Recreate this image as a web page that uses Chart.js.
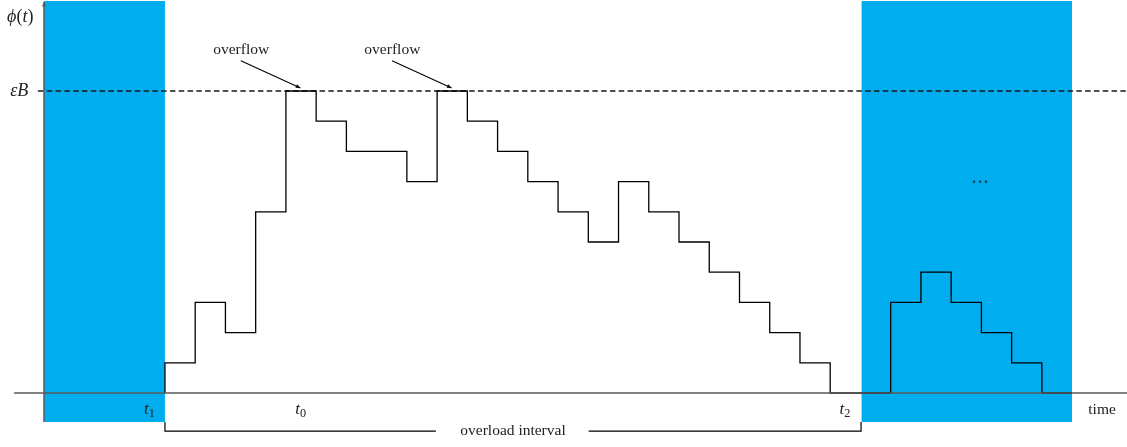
<!DOCTYPE html>
<html>
<head>
<meta charset="utf-8">
<script src="https://cdn.jsdelivr.net/npm/chart.js@4"></script>
<style>
  html, body { margin: 0; padding: 0; background: #fff; }
  canvas { display: block; }
</style>
</head>
<body>
<canvas id="overloadChart" width="1127" height="447"></canvas>
<script>
// buffer level phi(t) as a step function: level holds from each time to the next
var stepTimes  = [4, 4, 5, 6, 7, 8, 9, 10, 12, 13, 14, 15, 16, 17, 18, 19, 20, 21, 22, 23, 24, 25, 26, 28, 29, 30, 31, 32, 33, 34];
var stepLevels = [0, 1, 3, 2, 6, 10, 9, 8, 7, 10, 9, 8, 7, 6, 5, 7, 6, 5, 4, 3, 2, 1, 0, 3, 4, 3, 2, 1, 0, 0];

// idle (shaded) periods [start, end]
var idleStart = [0, 27.03];
var idleEnd   = [4, 34];

// threshold epsilon*B
var threshold = 10;

// time ticks below the axis
var tickTimes  = [4, 9, 27];
var tickLabels = ['1', '0', '2'];

// overload interval t1 .. t2
var overloadFrom = 4, overloadTo = 27.02;

// overflow events (time of the overflow step)
var overflowAt = [8.5, 13.5];

// ---- view ----
var xMin = -1.455, xMax = 35.815, yMin = -1.788, yMax = 13.013;
var blue = '#00ADEF';
var serif = "'Liberation Serif', 'DejaVu Serif', serif";

function pts(xs, ys) {
    return xs.map(function(x, i) { return { x: x, y: ys[i] }; });
}

function lineSet(data, color, width, extra) {
    var ds = {
        type: 'line',
        data: data,
        borderColor: color,
        borderWidth: width,
        pointRadius: 0,
        fill: false,
        tension: 0
    };
    for (var k in extra) ds[k] = extra[k];
    return ds;
}

var datasets = [];

// shaded idle periods
idleStart.forEach(function(s, i) {
    datasets.push(lineSet([{ x: s, y: 12.98 }, { x: idleEnd[i], y: 12.98 }], blue, 0, {
        fill: { value: -0.96 },
        backgroundColor: blue,
        order: 10
    }));
});

// step function
datasets.push(lineSet(pts(stepTimes, stepLevels), '#000', 1.3, { stepped: 'before', order: 2 }));

// dashed threshold
datasets.push(lineSet([{ x: -0.2, y: threshold }, { x: xMax, y: threshold }], '#1a1a1a', 1.3, {
    borderDash: [5.5, 3.3], order: 3
}));

// axes
datasets.push(lineSet([{ x: -0.99, y: 0 }, { x: xMax, y: 0 }], '#5a5a5a', 1.5, { order: 1 }));
datasets.push(lineSet([{ x: 0, y: -0.96 }, { x: 0, y: 12.95 }], '#5a5a5a', 1.5, { order: 1, arrow: true }));

// overflow pointers
overflowAt.forEach(function(t) {
    datasets.push(lineSet([{ x: t - 1.99, y: 11.0 }, { x: t - 0.02, y: 10.1 }], '#000', 1.1, { order: 1, arrow: true }));
});

// overload interval bracket
var mid = (overloadFrom + overloadTo) / 2;
datasets.push(lineSet([{ x: overloadFrom, y: -0.96 }, { x: overloadFrom, y: -1.26 }, { x: mid - 2.55, y: -1.26 }], '#000', 1.2, { order: 1 }));
datasets.push(lineSet([{ x: mid + 2.5, y: -1.26 }, { x: overloadTo, y: -1.26 }, { x: overloadTo, y: -0.96 }], '#000', 1.2, { order: 1 }));

function drawRuns(ctx, runs, x, y, align, size) {
    var widths = runs.map(function(r) {
        ctx.font = (r.italic ? 'italic ' : '') + (r.sub ? size * 0.72 : size) + 'px ' + serif;
        return ctx.measureText(r.text).width;
    });
    var total = widths.reduce(function(a, b) { return a + b; }, 0);
    var cx = align === 'right' ? x - total : (align === 'center' ? x - total / 2 : x);
    ctx.textBaseline = 'middle';
    ctx.textAlign = 'left';
    runs.forEach(function(r, i) {
        ctx.font = (r.italic ? 'italic ' : '') + (r.sub ? size * 0.72 : size) + 'px ' + serif;
        ctx.fillText(r.text, cx, r.sub ? y + 4 : y);
        cx += widths[i];
    });
}

var annotate = {
    id: 'annotate',
    afterDatasetsDraw: function(chart) {
        var ctx = chart.ctx, xs = chart.scales.x, ys = chart.scales.y;
        ctx.save();

        // arrow heads
        chart.data.datasets.forEach(function(ds, i) {
            if (!ds.arrow) return;
            var pts = chart.getDatasetMeta(i).data;
            var a = pts[pts.length - 2], b = pts[pts.length - 1];
            var ang = Math.atan2(b.y - a.y, b.x - a.x);
            ctx.fillStyle = ds.borderColor;
            ctx.beginPath();
            ctx.moveTo(b.x, b.y);
            ctx.lineTo(b.x - 5 * Math.cos(ang - 0.4), b.y - 5 * Math.sin(ang - 0.4));
            ctx.lineTo(b.x - 5 * Math.cos(ang + 0.4), b.y - 5 * Math.sin(ang + 0.4));
            ctx.closePath();
            ctx.fill();
        });

        ctx.fillStyle = '#222';
        var px = function(v) { return xs.getPixelForValue(v); };
        var py = function(v) { return ys.getPixelForValue(v); };

        drawRuns(ctx, [{ text: '\u03D5', italic: true }, { text: '(' }, { text: 't', italic: true }, { text: ')' }],
            px(-1.22), py(12.45), 'left', 18);
        drawRuns(ctx, [{ text: '\u03B5', italic: true }, { text: 'B', italic: true }],
            px(-1.12), py(threshold), 'left', 18);

        tickTimes.forEach(function(t, i) {
            drawRuns(ctx, [{ text: 't', italic: true }, { text: tickLabels[i], sub: true }],
                px(t) - 10, py(-0.55), 'right', 17);
        });
        drawRuns(ctx, [{ text: 'time' }], px(34.99), py(-0.55), 'center', 15.5);

        overflowAt.forEach(function(t) {
            drawRuns(ctx, [{ text: 'overflow' }], px(t - 1.98), py(11.36), 'center', 15.5);
        });
        drawRuns(ctx, [{ text: 'overload interval' }], px(mid), py(-1.26), 'center', 15.5);

        // continuation dots
        ctx.fillStyle = '#1a3a4a';
        [-6, 0, 6].forEach(function(dx) {
            ctx.fillRect(px(30.95) + dx - 1, py(7) - 1, 2.2, 2.2);
        });

        ctx.restore();
    }
};

new Chart(document.getElementById('overloadChart').getContext('2d'), {
    type: 'line',
    data: { datasets: datasets },
    options: {
        responsive: false,
        animation: false,
        layout: { padding: 0 },
        plugins: {
            legend: { display: false },
            tooltip: { enabled: false }
        },
        scales: {
            x: { type: 'linear', min: xMin, max: xMax, display: false },
            y: { type: 'linear', min: yMin, max: yMax, display: false }
        }
    },
    plugins: [annotate]
});
</script>
</body>
</html>
